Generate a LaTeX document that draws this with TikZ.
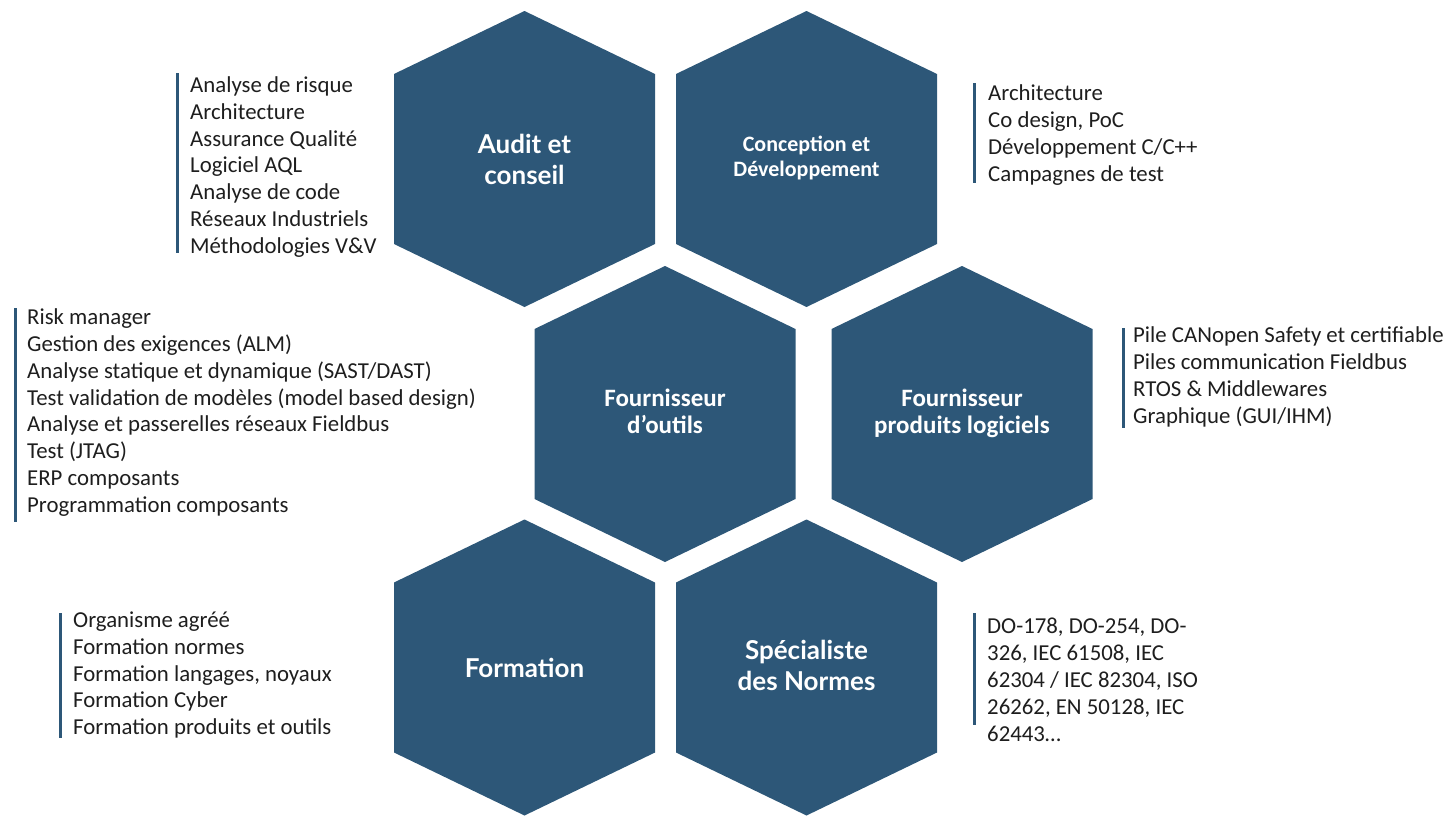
\documentclass[tikz,border=0pt]{standalone}
\usepackage{fontspec}
\setmainfont{Carlito}
\newfontfamily\latofont{Lato}
\definecolor{hexblue}{HTML}{2D5778}
\definecolor{listgray}{HTML}{1E1E1E}
\tikzset{
  hexa/.pic={\fill[hexblue] (-130.5,-85) -- (0,-148) -- (130.5,-85) -- (130.5,85) -- (0,148) -- (-130.5,85) -- cycle;},
  titleA/.style={text=white, align=center, inner sep=0pt, font=\latofont\bfseries\fontsize{26}{31}\selectfont},
  titleB/.style={text=white, align=center, inner sep=0pt, font=\bfseries\fontsize{22}{25}\selectfont},
  titleC/.style={text=white, align=center, inner sep=0pt, font=\bfseries\fontsize{25}{27}\selectfont},
  itemlist/.style={text=listgray, align=left, anchor=west, inner sep=0pt, font=\fontsize{22.8}{26.9}\selectfont},
  bar/.style={draw=hexblue, line width=3pt},
}
\begin{document}
\begin{tikzpicture}[x=1pt,y=-1pt]
\useasboundingbox (0,0) rectangle (1449,819);
% hexagons
\pic at (524.5,159) {hexa};
\pic at (806.5,159) {hexa};
\pic at (665,414) {hexa};
\pic at (962,414) {hexa};
\pic at (524.5,667.5) {hexa};
\pic at (806.5,667.5) {hexa};
% titles
\node[titleA] (audit) at (524.5,159) {Audit et\\conseil};
\node[titleB] (conception) at (806.5,158) {Conception et\\Développement};
\node[titleC] (outils) at (665,411) {Fournisseur\\d’outils};
\node[titleC] (produits) at (962,413) {Fournisseur\\produits logiciels};
\node[titleA] (formation) at (524.5,668) {Formation};
\node[titleA] (normes) at (806.5,665) {Spécialiste\\des Normes};
% lists
\node[itemlist] (listaudit) at (190,167) {Analyse de risque\\Architecture\\Assurance Qualité\\Logiciel AQL\\Analyse de code\\Réseaux Industriels\\Méthodologies V\&V};
\draw[bar] (177,73) -- (177,253);
\node[itemlist] (listconc) at (988,135) {Architecture\\Co design, PoC\\Développement C/C++\\Campagnes de test};
\draw[bar] (974,83) -- (974,183);
\node[itemlist] (listoutils) at (27,412.5) {Risk manager\\Gestion des exigences (ALM)\\Analyse statique et dynamique (SAST/DAST)\\Test validation de modèles (model based design)\\Analyse et passerelles réseaux Fieldbus\\Test (JTAG)\\ERP composants\\Programmation composants};
\draw[bar] (15,308) -- (15,522);
\node[itemlist] (listprod) at (1133,377) {Pile CANopen Safety et certifiable\\Piles communication Fieldbus\\RTOS \& Middlewares\\Graphique (GUI/IHM)};
\draw[bar] (1123,328) -- (1123,428);
\node[itemlist] (listform) at (73,675) {Organisme agréé\\Formation normes\\Formation langages, noyaux\\Formation Cyber\\Formation produits et outils};
\draw[bar] (60,613) -- (60,738);
\node[itemlist] (listnormes) at (987,680) {DO-178, DO-254, DO-\\326, IEC 61508, IEC\\62304 / IEC 82304, ISO\\26262, EN 50128, IEC\\62443…};
\draw[bar] (974,613) -- (974,725);
\end{tikzpicture}
\end{document}
